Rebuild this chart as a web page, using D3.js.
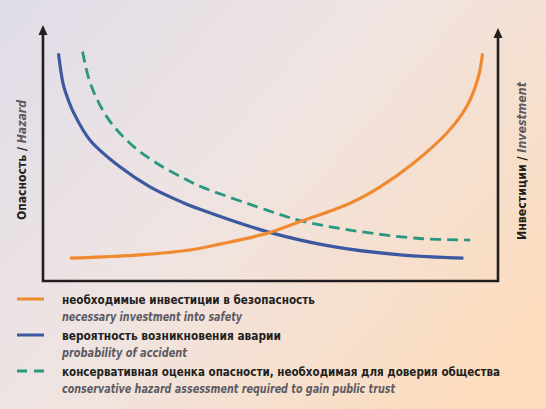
<!DOCTYPE html>
<html><head><meta charset="utf-8">
<script src="https://cdn.jsdelivr.net/npm/d3@7"></script>
<style>html,body{margin:0;padding:0;overflow:hidden}svg{display:block}</style>
</head><body>
<svg id="c" width="546" height="409"></svg>
<script>
// x/y in relative units 0..100
const investment = [[5.9,8.9],[21.3,10.2],[32.3,12.1],[38.9,14.4],[49.2,18.6],[56.5,23.2],[67.5,30.4],[74.1,36.8],[81.4,46.0],[88.7,57.7],[93.1,68.1],[95.7,79.8],[96.6,88.9]];
const accident = [[3.4,88.9],[4.4,77.2],[5.4,71.5],[6.8,65.5],[10.3,55.1],[16.9,44.6],[23.5,36.8],[30.8,30.6],[34.5,28.0],[49.2,19.3],[63.8,13.4],[78.5,10.2],[92.4,8.9]];
const conservative = [[8.7,89.6],[10.4,77.2],[14.0,64.2],[19.1,53.8],[25.0,46.0],[32.3,38.9],[34.5,37.0],[49.2,27.7],[56.5,23.6],[67.5,19.9],[82.1,16.7],[93.9,16.0]];
const legendRu = ["необходимые инвестиции в безопасность","вероятность возникновения аварии","консервативная оценка опасности, необходимая для доверия общества"];
const legendEn = ["necessary investment into safety","probability of accident","conservative hazard assessment required to gain public trust"];
const axisLeftLabel = ["Опасность / ","Hazard"];
const axisRightLabel = ["Инвестиции / ","Investment"];

const svg = d3.select("#c");
const defs = svg.append("defs");
const g = defs.append("linearGradient").attr("id","bg").attr("x1","0").attr("y1","0.1").attr("x2","1").attr("y2","0.75");
g.append("stop").attr("offset","0").attr("stop-color","#e1dde8");
g.append("stop").attr("offset","0.45").attr("stop-color","#efe4e2");
g.append("stop").attr("offset","1").attr("stop-color","#fcdcbd");
svg.append("rect").attr("width",546).attr("height",409).attr("fill","url(#bg)");

const x = d3.scaleLinear().domain([0,100]).range([43,498]);
const y = d3.scaleLinear().domain([0,100]).range([281,25]);
const ink = "#231f20";

// axes
svg.append("path").attr("d",`M${x(0)},${y(98)} L${x(0)},${y(0)} L${x(100)},${y(0)} L${x(100)},${y(97)}`)
  .attr("fill","none").attr("stroke",ink).attr("stroke-width",2.6);
function arrow(px, tipY){
  svg.append("path").attr("d",`M${px},${tipY} L${px-4.5},${tipY+10} L${px+4.5},${tipY+10} Z`).attr("fill",ink);
}
arrow(x(0), y(100));
arrow(x(100), y(98.8));

const line = d3.line().x(d=>x(d[0])).y(d=>y(d[1])).curve(d3.curveCatmullRom.alpha(0.5));
const colors = {orange:"#f08a31", blue:"#3b58a0", green:"#2a9880"};
svg.append("path").datum(accident).attr("d",line).attr("fill","none").attr("stroke",colors.blue).attr("stroke-width",3.2);
svg.append("path").datum(conservative).attr("d",line).attr("fill","none").attr("stroke",colors.green).attr("stroke-width",2.8).attr("stroke-dasharray","11,6");
svg.append("path").datum(investment).attr("d",line).attr("fill","none").attr("stroke",colors.orange).attr("stroke-width",3.2);

const font = "'DejaVu Sans Condensed','Liberation Sans Narrow',sans-serif";
// axis titles
function axisTitle(parts, cx, cy, len){
  const t = svg.append("text").attr("transform",`translate(${cx},${cy}) rotate(-90)`)
    .attr("text-anchor","middle").attr("dominant-baseline","central")
    .attr("font-family",font).attr("font-size",12.5).attr("font-weight","bold")
    .attr("textLength",len).attr("lengthAdjust","spacingAndGlyphs");
  t.append("tspan").attr("fill",ink).text(parts[0]);
  t.append("tspan").attr("fill","#5d5a62").attr("font-style","italic").text(parts[1]);
}
axisTitle(axisLeftLabel, 21, 160, 120);
axisTitle(axisRightLabel, 521, 161, 158);

// legend
const legColors = [colors.orange, colors.blue, colors.green];
const ruY = [299, 335, 371];
const ruW = [253, 219, 438];
const enW = [180, 125, 333];
legendRu.forEach((s,i)=>{
  const yy = ruY[i];
  const l = svg.append("line").attr("x1",17).attr("x2",44).attr("y1",yy).attr("y2",yy)
    .attr("stroke",legColors[i]).attr("stroke-width",3);
  if(i===2) l.attr("stroke-dasharray","10,7");
  svg.append("text").attr("x",62).attr("y",yy).attr("dominant-baseline","central")
    .attr("font-family",font).attr("font-size",12.5).attr("font-weight","bold").attr("fill",ink)
    .attr("textLength",ruW[i]).attr("lengthAdjust","spacingAndGlyphs").text(s);
  svg.append("text").attr("x",62).attr("y",yy+17).attr("dominant-baseline","central")
    .attr("font-family",font).attr("font-size",12.5).attr("font-weight","bold").attr("font-style","italic").attr("fill","#5d5a62")
    .attr("textLength",enW[i]).attr("lengthAdjust","spacingAndGlyphs").text(legendEn[i]);
});
</script>
</body></html>
